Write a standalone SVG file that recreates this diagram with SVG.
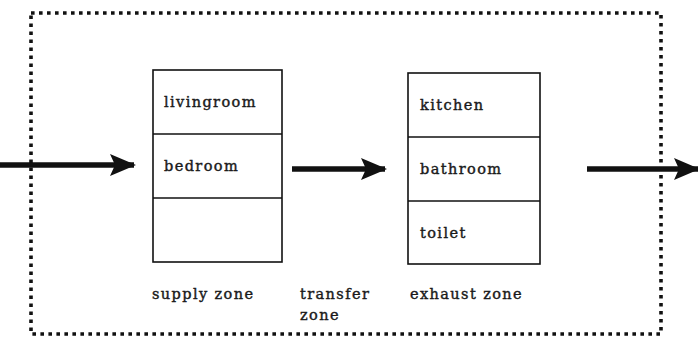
<svg xmlns="http://www.w3.org/2000/svg" width="698" height="347" viewBox="0 0 698 347">
<defs>
<marker id="ah" markerWidth="26" markerHeight="22" refX="24" refY="11" orient="auto" markerUnits="userSpaceOnUse">
<path d="M0,0 L26,11 L0,22 L5,11 Z" fill="#111"/>
</marker>
</defs>
<style>
.bg{fill:#fff}
.border{fill:none;stroke:#111;stroke-width:3.6;stroke-dasharray:3.6 4.4}
.box{fill:#fff;stroke:#111;stroke-width:1.6}
.div{stroke:#111;stroke-width:1.4}
.t{font-family:"DejaVu Serif","Liberation Serif",serif;font-size:14.5px;letter-spacing:1.4px;fill:#1a1a1a;stroke:#1a1a1a;stroke-width:0.4}
.arr{stroke:#111;stroke-width:5.5;fill:none}
</style>
<rect class="bg" x="0" y="0" width="698" height="347"/>
<rect class="border" x="31" y="13" width="630" height="321"/>
<g id="supply">
<rect class="box" x="153" y="70" width="129" height="192"/>
<line class="div" x1="153" y1="134" x2="282" y2="134"/>
<line class="div" x1="153" y1="198" x2="282" y2="198"/>
<text class="t" x="164" y="107">livingroom</text>
<text class="t" x="164" y="171">bedroom</text>
</g>
<g id="exhaust">
<rect class="box" x="408" y="73" width="132" height="191"/>
<line class="div" x1="408" y1="137" x2="540" y2="137"/>
<line class="div" x1="408" y1="201" x2="540" y2="201"/>
<text class="t" x="420" y="110">kitchen</text>
<text class="t" x="420" y="174">bathroom</text>
<text class="t" x="420" y="238">toilet</text>
</g>
<g id="labels">
<text class="t" x="152" y="299">supply zone</text>
<text class="t" x="300" y="299">transfer</text>
<text class="t" x="300" y="320">zone</text>
<text class="t" x="410" y="299">exhaust zone</text>
</g>
<g id="connectors">
<line class="arr" x1="0" y1="165" x2="134" y2="165" marker-end="url(#ah)"/>
<line class="arr" x1="292" y1="169" x2="385" y2="169" marker-end="url(#ah)"/>
<line class="arr" x1="587" y1="169" x2="698" y2="169" marker-end="url(#ah)"/>
</g>
</svg>
